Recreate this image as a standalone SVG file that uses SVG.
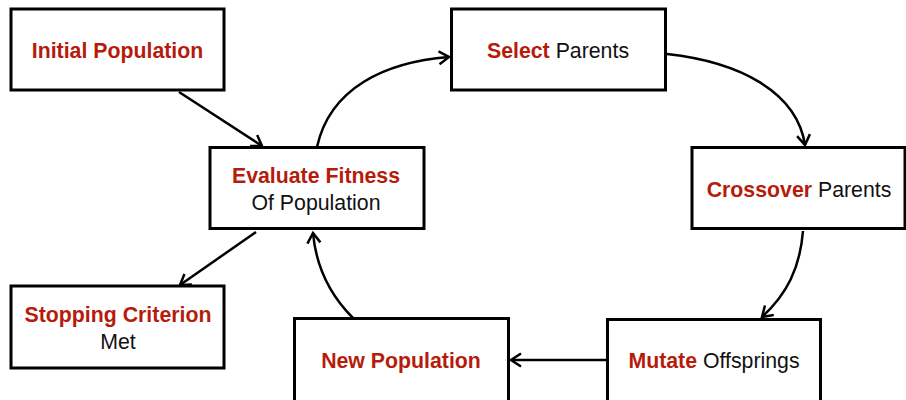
<svg xmlns="http://www.w3.org/2000/svg" width="906" height="400" viewBox="0 0 906 400">
<defs>
<style>
.box{fill:#fff;stroke:#000;stroke-width:3}
.t{font-family:"Liberation Sans",Arial,sans-serif;font-size:21.3px;text-anchor:middle;fill:#111}
.r{fill:#b51c0c;font-weight:bold}
.c{fill:none;stroke:#000;stroke-width:2.5}
</style>
<marker id="a" markerUnits="userSpaceOnUse" markerWidth="16" markerHeight="16" viewBox="0 0 16 16" refX="13" refY="8" orient="auto">
<path d="M3,1.5 L13,8 L3,14.5" fill="none" stroke="#000" stroke-width="2.5"/>
</marker>
</defs>
<rect width="906" height="400" fill="#fff"/>
<g id="connectors">
<path class="c" d="M179,92 L262,146" marker-end="url(#a)"/>
<path class="c" d="M317,147 C330,88 385,62 449,57" marker-end="url(#a)"/>
<path class="c" d="M667,54 C740,62 797,92 805,145" marker-end="url(#a)"/>
<path class="c" d="M803,231 C800,268 787,294 762,317" marker-end="url(#a)"/>
<path class="c" d="M607,360 L511,360" marker-end="url(#a)"/>
<path class="c" d="M353,318 C330,295 316,266 313,233" marker-end="url(#a)"/>
<path class="c" d="M256,232 L180,285" marker-end="url(#a)"/>
</g>
<g id="initial">
<rect class="box" x="11" y="9" width="213" height="81"/>
<text class="t" x="117.5" y="58"><tspan class="r">Initial Population</tspan></text>
</g>
<g id="select">
<rect class="box" x="451.5" y="9" width="214" height="81"/>
<text class="t" x="558" y="58"><tspan class="r">Select</tspan> Parents</text>
</g>
<g id="crossover">
<rect class="box" x="692" y="147.5" width="213" height="81"/>
<text class="t" x="799" y="197"><tspan class="r">Crossover</tspan> Parents</text>
</g>
<g id="mutate">
<rect class="box" x="607.5" y="319.5" width="213" height="90"/>
<text class="t" x="714" y="368"><tspan class="r">Mutate</tspan> Offsprings</text>
</g>
<g id="newpop">
<rect class="box" x="294.5" y="318.5" width="214" height="90"/>
<text class="t" x="401" y="368"><tspan class="r">New Population</tspan></text>
</g>
<g id="evaluate">
<rect class="box" x="210" y="147.5" width="214" height="81"/>
<text class="t" x="316" y="183"><tspan class="r">Evaluate Fitness</tspan></text>
<text class="t" x="316" y="210">Of Population</text>
</g>
<g id="stopping">
<rect class="box" x="11" y="286" width="213" height="82"/>
<text class="t" x="118" y="322"><tspan class="r">Stopping Criterion</tspan></text>
<text class="t" x="118" y="348.5">Met</text>
</g>
</svg>
